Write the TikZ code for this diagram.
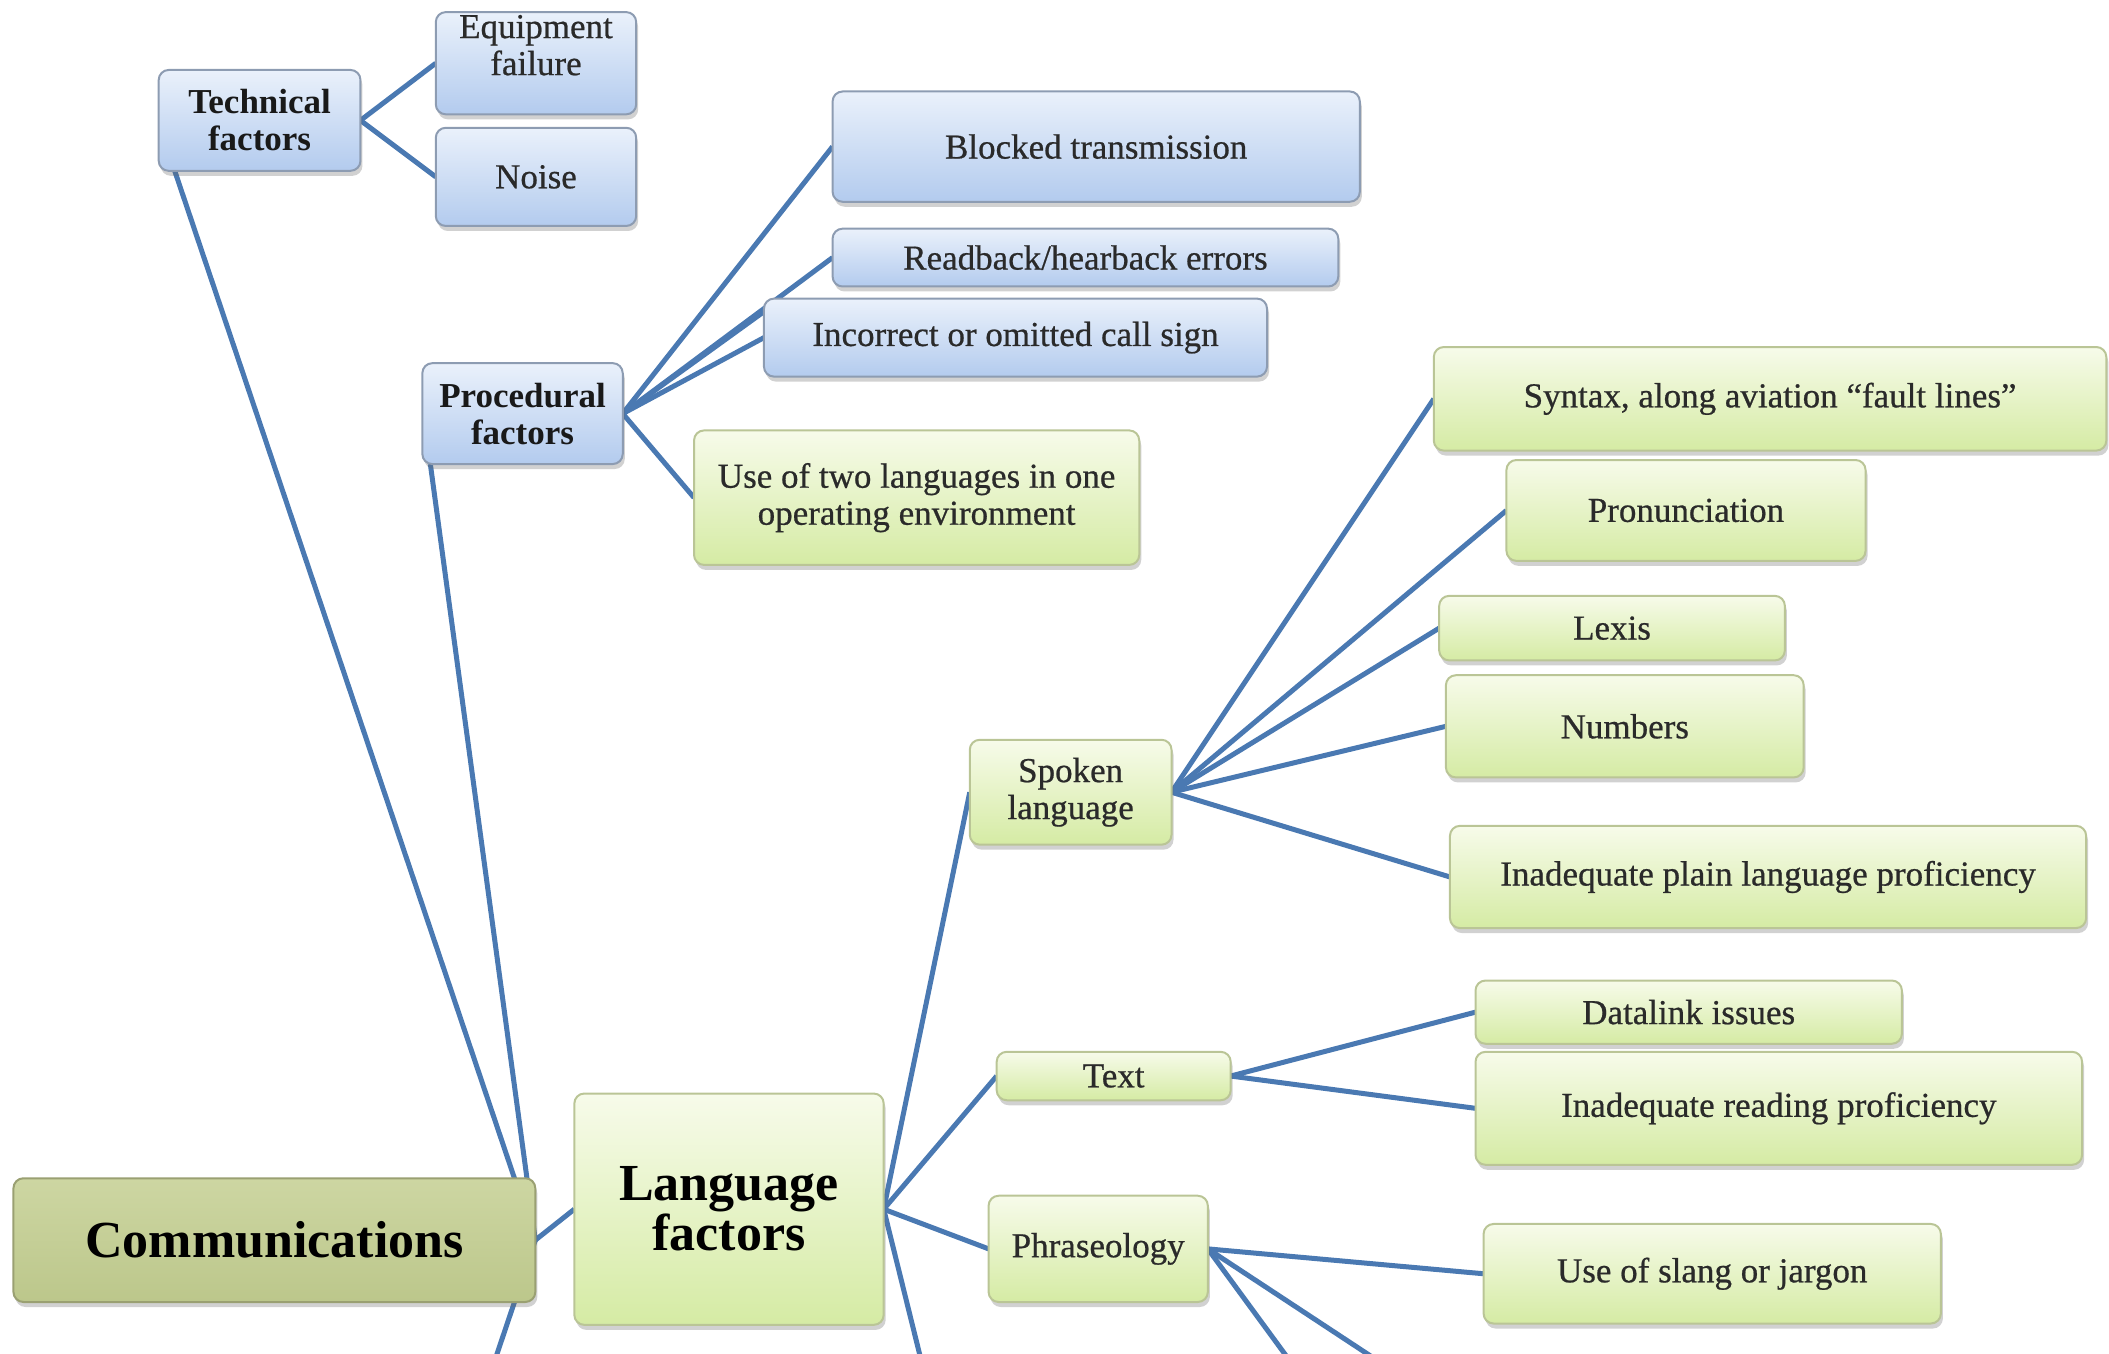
\documentclass[tikz,border=0pt]{standalone}
\usepackage{fontspec}
\setmainfont{Liberation Serif}
\newfontfamily\leaffont[FakeBold=0.6]{Liberation Serif}
\usetikzlibrary{shadows,backgrounds}
\definecolor{bluetop}{HTML}{EAF1FB}
\definecolor{bluebot}{HTML}{B3CBEE}
\definecolor{blueborder}{HTML}{8D9CB2}
\definecolor{greentop}{HTML}{F7FBEA}
\definecolor{greenbot}{HTML}{D5EBA4}
\definecolor{greenborder}{HTML}{BAC596}
\definecolor{commtop}{HTML}{CDD6A2}
\definecolor{commbot}{HTML}{BCC78B}
\definecolor{commborder}{HTML}{9AA072}
\definecolor{linkblue}{HTML}{4A79B2}
\definecolor{txt}{HTML}{2A2A2A}
\newcommand\diabox[7]{\node[#6, minimum width={(#4-#2)*1.345pt}, minimum height={(#5-#3)*1.345pt}] (#1) at ({(#2+#4)/2},{(#3+#5)/2}) {#7};}
\tikzset{
  box/.style={rounded corners=10pt, line width=2pt, inner sep=0pt, outer sep=0pt,
    align=center, text=txt, font=\leaffont\fontsize{35}{37}\selectfont,
    drop shadow={shadow xshift=2pt, shadow yshift=-5pt, opacity=0.3, fill=black!60}},
  bluebox/.style={box, draw=blueborder, top color=bluetop, bottom color=bluebot},
  greenbox/.style={box, draw=greenborder, top color=greentop, bottom color=greenbot},
  boldtxt/.style={font=\rmfamily\bfseries\fontsize{35}{37}\selectfont, text=black!90},
  bigtxt/.style={font=\rmfamily\bfseries\fontsize{52}{50}\selectfont, text=black},
  commbox/.style={box, draw=commborder, top color=commtop, bottom color=commbot},
  conn/.style={draw=linkblue, line width=5pt},
}
\begin{document}
\begin{tikzpicture}[x=1.345pt, y=-1.345pt]
\useasboundingbox (0,0) rectangle (1568,1006);
\clip (0,0) rectangle (1568,1006);
% blue nodes
\diabox{tech}{118}{52}{268}{127}{bluebox, boldtxt}{Technical\\factors}
\diabox{equip}{324}{9}{473}{85}{bluebox}{\raisebox{14pt}[\height][\depth]{\begin{tabular}{@{}c@{}}Equipment\\failure\end{tabular}}}
\diabox{noise}{324}{95}{473}{168}{bluebox}{Noise}
\diabox{blocked}{619}{68}{1011}{150}{bluebox}{Blocked transmission}
\diabox{readback}{619}{170}{995}{213}{bluebox}{Readback/hearback errors}
\diabox{incorrect}{568}{222}{942}{280}{bluebox}{Incorrect or omitted call sign}
\diabox{proc}{314}{270}{463}{345}{bluebox, boldtxt}{Procedural\\factors}
% green nodes
\diabox{twolang}{516}{320}{847}{420}{greenbox}{Use of two languages in one\\operating environment}
\diabox{syntax}{1066}{258}{1566}{335}{greenbox}{Syntax, along aviation “fault lines”}
\diabox{pron}{1120}{342}{1387}{417}{greenbox}{Pronunciation}
\diabox{lexis}{1070}{443}{1327}{491}{greenbox}{Lexis}
\diabox{numbers}{1075}{502}{1341}{578}{greenbox}{Numbers}
\diabox{plain}{1078}{614}{1551}{690}{greenbox}{Inadequate plain language proficiency}
\diabox{spoken}{721}{550}{871}{628}{greenbox}{Spoken\\language}
\diabox{datalink}{1097}{729}{1414}{776}{greenbox}{Datalink issues}
\diabox{txtn}{741}{782}{915}{818}{greenbox}{Text}
\diabox{reading}{1097}{782}{1548}{866}{greenbox}{Inadequate reading proficiency}
\diabox{lang}{427}{813}{657}{985}{greenbox, bigtxt}{Language\\factors}
\diabox{phrase}{735}{889}{898}{968}{greenbox}{Phraseology}
\diabox{slang}{1103}{910}{1443}{984}{greenbox}{Use of slang or jargon}
\diabox{comm}{10}{876}{398}{968}{commbox, bigtxt}{Communications}
% free ends below the picture
\coordinate (commdown) at (365,1020);
\coordinate (langdown) at (687,1020);
\coordinate (phrdownA) at (965,1020);
\coordinate (phrdownB) at (1037,1020);
\begin{scope}[on background layer]
\draw[conn] (tech.east) -- (equip.west);
\draw[conn] (tech.east) -- (noise.west);
\draw[conn] ([xshift=16pt]tech.south west) -- (comm.east);
\draw[conn] ([xshift=8pt]proc.south west) -- (comm.east);
\draw[conn] (comm.east) -- (commdown);
\draw[conn] (comm.east) -- (lang.west);
\draw[conn] (proc.east) -- (blocked.west);
\draw[conn] (proc.east) -- (readback.west);
\draw[conn] (proc.east) -- ([yshift=26pt]incorrect.west);
\draw[conn] (proc.east) -- (incorrect.west);
\draw[conn] (proc.east) -- (twolang.west);
\draw[conn] (lang.east) -- (spoken.west);
\draw[conn] (lang.east) -- (txtn.west);
\draw[conn] (lang.east) -- (phrase.west);
\draw[conn] (lang.east) -- (langdown);
\draw[conn] (spoken.east) -- (syntax.west);
\draw[conn] (spoken.east) -- (pron.west);
\draw[conn] (spoken.east) -- (lexis.west);
\draw[conn] (spoken.east) -- (numbers.west);
\draw[conn] (spoken.east) -- (plain.west);
\draw[conn] (txtn.east) -- (datalink.west);
\draw[conn] (txtn.east) -- (reading.west);
\draw[conn] (phrase.east) -- (slang.west);
\draw[conn] (phrase.east) -- (phrdownA);
\draw[conn] (phrase.east) -- (phrdownB);
\end{scope}
\end{tikzpicture}
\end{document}
